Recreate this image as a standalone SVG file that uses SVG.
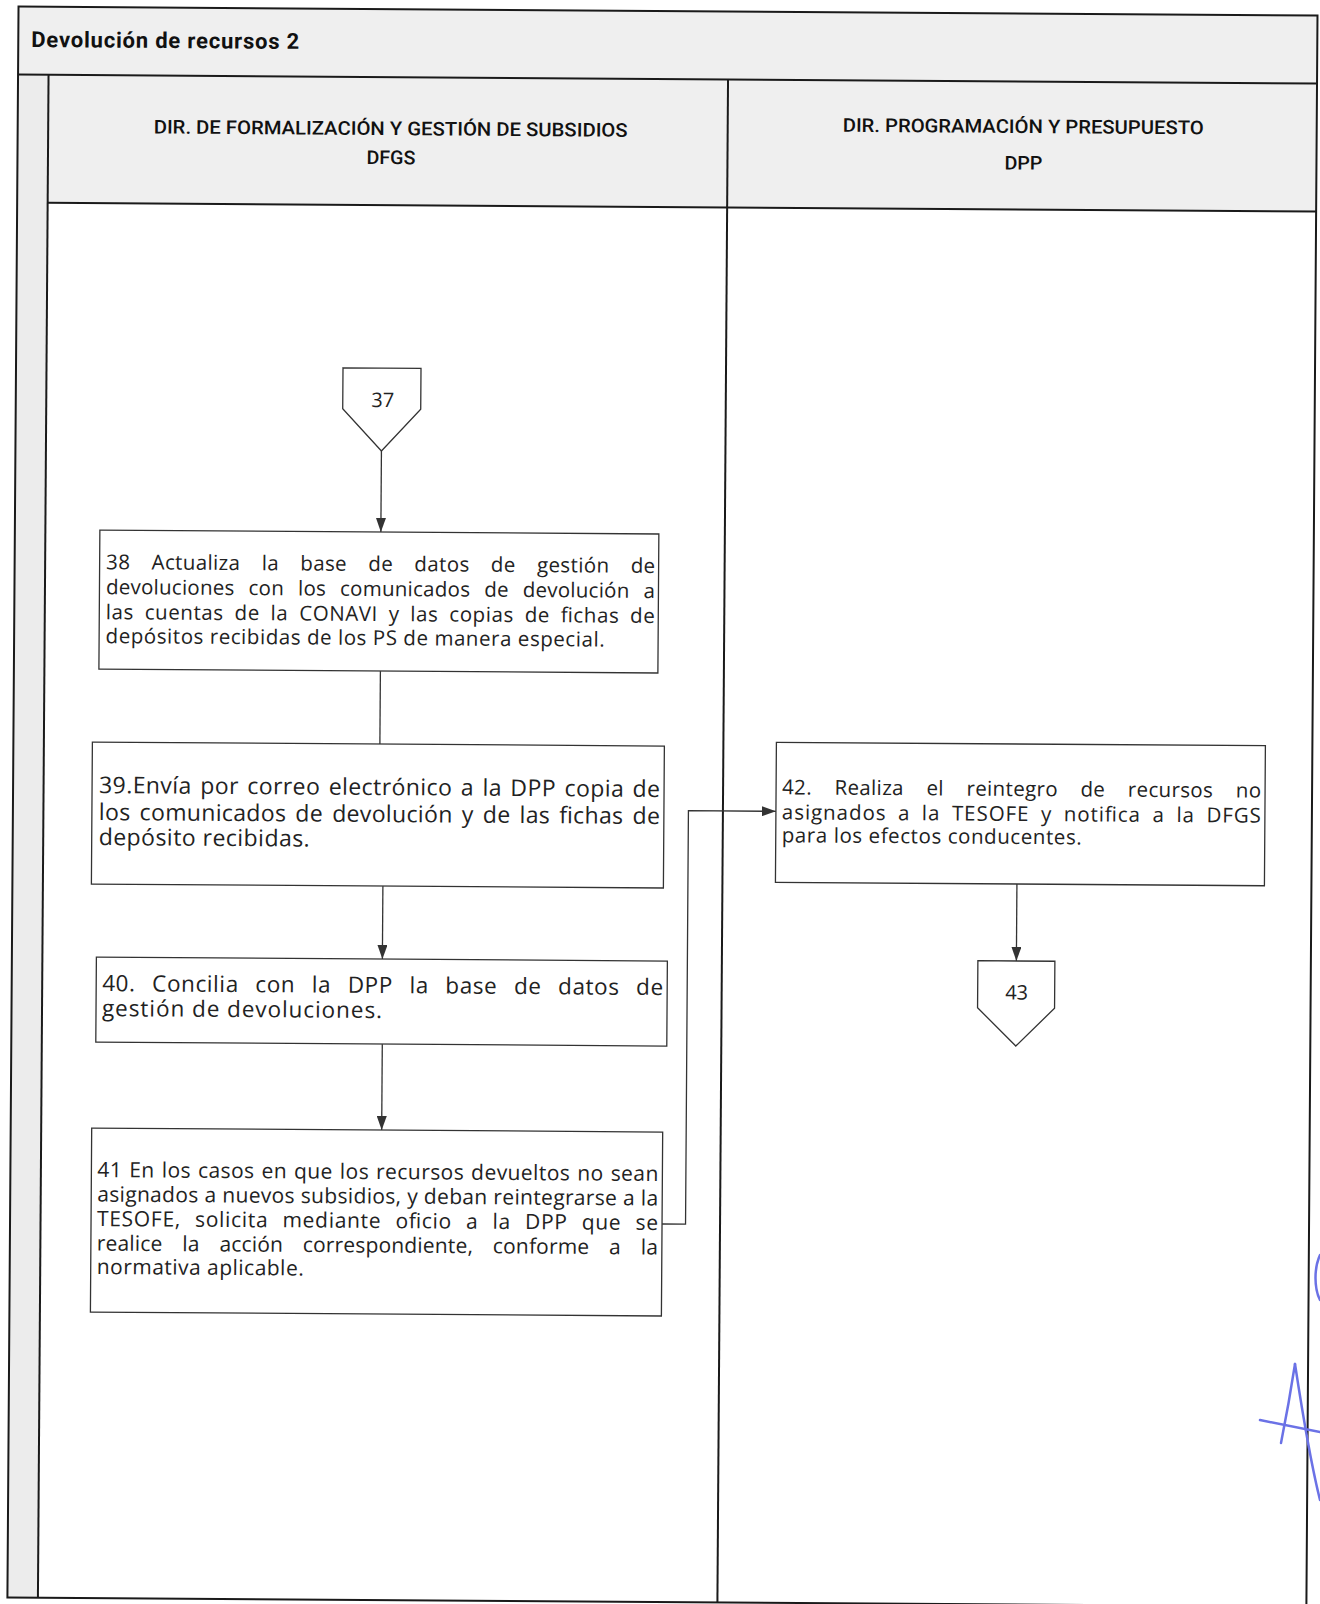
<svg xmlns="http://www.w3.org/2000/svg" width="1320" height="1604" viewBox="0 0 1320 1604">
<defs>
<marker id="arr" markerUnits="userSpaceOnUse" markerWidth="14" markerHeight="10" viewBox="0 0 14 10" refX="14" refY="5" orient="auto">
<path d="M0,0 L14,5 L0,10 z" fill="#333"/>
</marker>
</defs>
<style>
.frame{fill:none;stroke:#1a1a1a;stroke-width:2}
.box{fill:#fff;stroke:#333;stroke-width:1.3}
.con{fill:none;stroke:#333;stroke-width:1.3}
.t{font-family:"Open Sans","Noto Sans",sans-serif;fill:#222}
.h{font-family:Roboto,"Liberation Sans",sans-serif;font-weight:500;fill:#111;font-size:19px}
.title{font-family:Roboto,"Liberation Sans",sans-serif;font-weight:700;fill:#111;font-size:22px}
.sig{fill:none;stroke:#6b72e6;stroke-width:2.5;stroke-linecap:round}
</style>
<rect width="1320" height="1604" fill="#fff"/>
<g transform="rotate(0.4 660 800)">
<g id="frame">
<rect x="13" y="11" width="1299" height="68" fill="#efefef"/>
<rect x="13" y="79" width="30.5" height="1523" fill="#ececec"/>
<rect x="43.5" y="79" width="1268.5" height="128" fill="#efefef"/>
<rect class="frame" x="13" y="11" width="1299" height="1591"/>
<line class="frame" x1="13" y1="79" x2="1312" y2="79"/>
<line class="frame" x1="43.5" y1="79" x2="43.5" y2="1602"/>
<line class="frame" x1="43.5" y1="207" x2="1312" y2="207"/>
<line class="frame" x1="723" y1="79" x2="723" y2="1602"/>
<text class="title" x="26" y="51.5" textLength="268">Devolución de recursos 2</text>
</g>
<g id="lane-dfgs">
<text class="h"><tspan x="149" y="137" textLength="474" lengthAdjust="spacingAndGlyphs">DIR. DE FORMALIZACIÓN Y GESTIÓN DE SUBSIDIOS</tspan><tspan x="362" y="166" textLength="49" lengthAdjust="spacingAndGlyphs">DFGS</tspan></text>
</g>
<g id="lane-dpp">
<text class="h"><tspan x="838" y="130.5" textLength="361" lengthAdjust="spacingAndGlyphs">DIR. PROGRAMACIÓN Y PRESUPUESTO</tspan><tspan x="1000" y="167" textLength="38" lengthAdjust="spacingAndGlyphs">DPP</tspan></text>
</g>
<g id="connectors">
<line class="con" x1="379" y1="453" x2="379" y2="534" marker-end="url(#arr)"/>
<line class="con" x1="379.5" y1="673" x2="379.5" y2="746"/>
<line class="con" x1="383.5" y1="888" x2="383.5" y2="961" marker-end="url(#arr)"/>
<line class="con" x1="384" y1="1046" x2="384" y2="1132" marker-end="url(#arr)"/>
<polyline class="con" points="665,1224 688.5,1224 688.5,810.5 776,810.5" marker-end="url(#arr)"/>
<line class="con" x1="1017.5" y1="881.5" x2="1017.5" y2="958.5" marker-end="url(#arr)"/>
</g>
<g id="n37">
<polygon class="box" points="340,370 418,370 418,411 379,453 340,411"/>
<text class="t" x="380" y="409" font-size="20" text-anchor="middle">37</text>
</g>
<g id="n38">
<rect class="box" x="98" y="534" width="559" height="139"/>
<text class="t" font-size="20.5"><tspan x="104.5" y="573" word-spacing="15.6" textLength="549">38 Actualiza la base de datos de gestión de</tspan><tspan x="104.5" y="598" word-spacing="8.4" textLength="549">devoluciones con los comunicados de devolución a</tspan><tspan x="104.5" y="623" word-spacing="4.9" textLength="549">las cuentas de la CONAVI y las copias de fichas de</tspan><tspan x="104.5" y="647" textLength="499">depósitos recibidas de los PS de manera especial.</tspan></text>
</g>
<g id="n39">
<rect class="box" x="92" y="746" width="572" height="142"/>
<text class="t" font-size="23"><tspan x="99" y="797" word-spacing="2.1" textLength="561">39.Envía por correo electrónico a la DPP copia de</tspan><tspan x="99" y="824" word-spacing="2.8" textLength="561">los comunicados de devolución y de las fichas de</tspan><tspan x="99" y="849" textLength="211">depósito recibidas.</tspan></text>
</g>
<g id="n40">
<rect class="box" x="97.5" y="961" width="571" height="85"/>
<text class="t" font-size="22.5"><tspan x="103.5" y="995" word-spacing="10.1" textLength="561">40. Concilia con la DPP la base de datos de</tspan><tspan x="103.5" y="1020" textLength="280">gestión de devoluciones.</tspan></text>
</g>
<g id="n41">
<rect class="box" x="94" y="1132" width="571" height="184"/>
<text class="t" font-size="21"><tspan x="100" y="1181" word-spacing="1.1" textLength="561">41 En los casos en que los recursos devueltos no sean</tspan><tspan x="100" y="1205.5" textLength="561">asignados a nuevos subsidios, y deban reintegrarse a la</tspan><tspan x="100" y="1230" word-spacing="8" textLength="561">TESOFE, solicita mediante oficio a la DPP que se</tspan><tspan x="100" y="1254.5" word-spacing="14.2" textLength="561">realice la acción correspondiente, conforme a la</tspan><tspan x="100" y="1278" textLength="207">normativa aplicable.</tspan></text>
</g>
<g id="n42">
<rect class="box" x="776" y="741.5" width="489" height="140"/>
<text class="t" font-size="20.5"><tspan x="782" y="793.5" word-spacing="17" textLength="479">42. Realiza el reintegro de recursos no</tspan><tspan x="782" y="818.5" word-spacing="5.3" textLength="479">asignados a la TESOFE y notifica a la DFGS</tspan><tspan x="782" y="841.5" textLength="300">para los efectos conducentes.</tspan></text>
</g>
<g id="n43">
<polygon class="box" points="979,958.5 1056,958.5 1056,1005.5 1017.5,1043.5 979,1005.5"/>
<text class="t" x="1018" y="997" font-size="20" text-anchor="middle">43</text>
</g>
</g>
<g id="signature">
<path class="sig" d="M1295,1364 C1291,1390 1286,1418 1281,1443"/>
<path class="sig" d="M1295,1364 C1302,1410 1310,1460 1320,1500"/>
<path class="sig" d="M1260,1420 C1280,1424 1300,1428 1320,1432"/>
<path class="sig" d="M1320,1255 C1314,1268 1314,1288 1320,1300"/>
</g>
</svg>
